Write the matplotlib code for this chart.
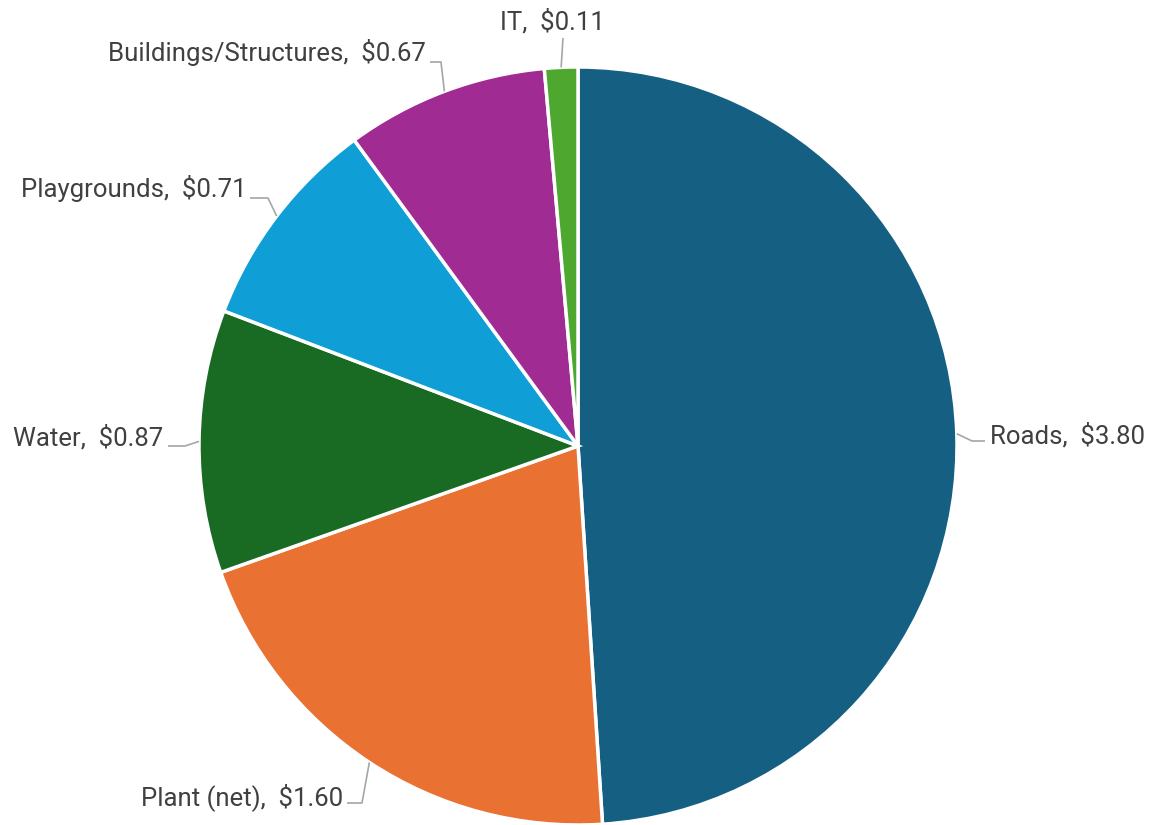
import numpy as np
import matplotlib.pyplot as plt

# datos del grafico
categorias = ["Roads", "Plant (net)", "Water", "Playgrounds", "Buildings/Structures", "IT"]
valores = [3.80, 1.60, 0.87, 0.71, 0.67, 0.11]
colores = ["#156082", "#E97132", "#196B24", "#0F9ED5", "#A02B93", "#4EA72E"]

plt.rcParams['font.family'] = ['Roboto', 'DejaVu Sans']

fig = plt.figure(figsize=(11.54, 8.25), dpi=100)
ax = fig.add_axes([0, 0, 1, 1])

# radio 1 -> 379 px, centro en (578, 446) px
escala = 379.0
cx, cy = 578.0, 446.0

wedges, _ = ax.pie(
    valores,
    colors=colores,
    startangle=90,
    counterclock=False,
    radius=1.0,
    wedgeprops=dict(edgecolor="white", linewidth=2.5),
)

ax.set_xlim(-cx / escala, (1154 - cx) / escala)
ax.set_ylim(-(825 - cy) / escala, cy / escala)
ax.set_aspect("equal")
ax.axis("off")


def px(x, y):
    # convierte pixeles de la imagen a coordenadas del eje
    return (x - cx) / escala, (cy - y) / escala


# posicion de cada etiqueta: (x texto, y texto, alineacion, codo de la linea guia, fin de la linea)
etiquetas = {
    "Roads": ((990, 436), "left", (972, 441), (985, 441)),
    "Plant (net)": ((343, 797), "right", (362, 803), (347, 803)),
    "Water": ((163, 438), "right", (185, 446), (168, 446)),
    "Playgrounds": ((247, 188), "right", (268, 198), (250, 198)),
    "Buildings/Structures": ((426, 52), "right", (441, 62), (430, 62)),
    "IT": ((552, 22), "center", (563, 38), (563, 38)),
}

for w, nombre, valor in zip(wedges, categorias, valores):
    (tx, ty), ha, codo, fin = etiquetas[nombre]
    ang = np.deg2rad((w.theta1 + w.theta2) / 2)
    inicio = (np.cos(ang), np.sin(ang))
    cx2, cy2 = px(*codo)
    fx, fy = px(*fin)
    ax.plot([inicio[0], cx2, fx], [inicio[1], cy2, fy],
            color="#A6A6A6", linewidth=1.2, solid_capstyle="butt")
    x, y = px(tx, ty)
    ax.text(x, y, f"{nombre},  ${valor:.2f}", ha=ha, va="center",
            fontsize=18.5, color="#404040")

fig.savefig("out.png", dpi=100)
